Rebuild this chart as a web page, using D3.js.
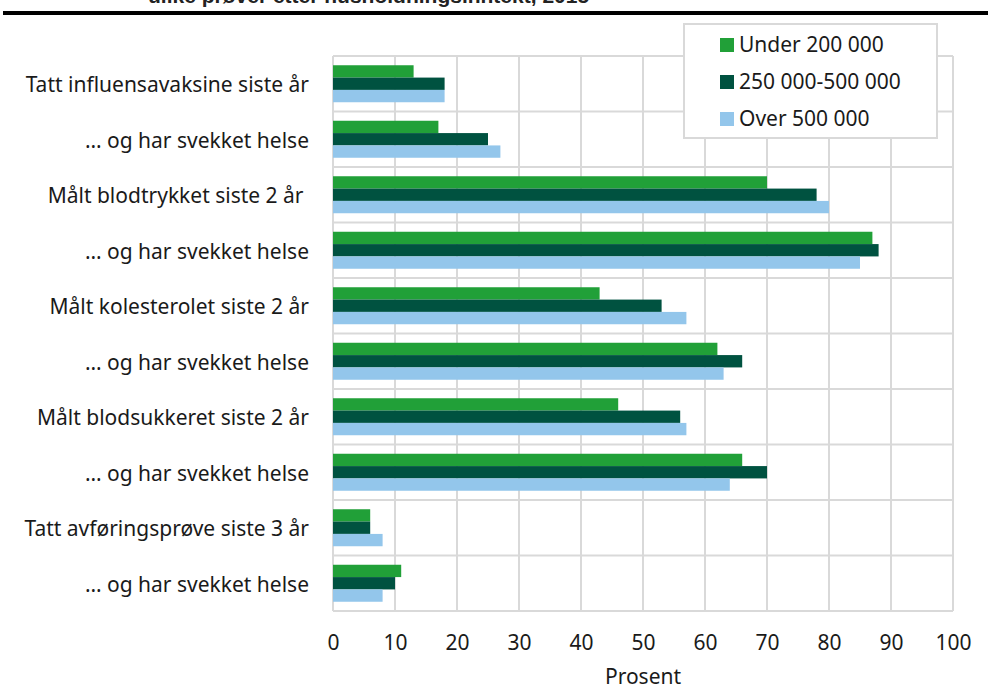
<!DOCTYPE html>
<html><head><meta charset="utf-8">
<script src="https://cdn.jsdelivr.net/npm/d3@7"></script>
<style>body{margin:0;background:#fff}svg{display:block}</style>
</head><body>
<svg id="c" width="988" height="689"></svg>
<script>
const categories = [
  "Tatt influensavaksine siste år",
  "... og har svekket helse",
  "Målt blodtrykket siste 2 år ",
  "... og har svekket helse",
  "Målt kolesterolet siste 2 år",
  "... og har svekket helse",
  "Målt blodsukkeret siste 2 år",
  "... og har svekket helse",
  "Tatt avføringsprøve siste 3 år",
  "... og har svekket helse"
];
const seriesNames = ["Under 200 000", "250 000-500 000", "Over 500 000"];
const under200 = [13, 17, 70, 87, 43, 62, 46, 66, 6, 11];
const mid250_500 = [18, 25, 78, 88, 53, 66, 56, 70, 6, 10];
const over500 = [18, 27, 80, 85, 57, 63, 57, 64, 8, 8];
const xTicks = [0,10,20,30,40,50,60,70,80,90,100];
const colors = ["#21a038", "#005240", "#93c6eb"];
const titleText = "ulike prøver etter husholdningsinntekt, 2015";

const series = [under200, mid250_500, over500];
const svg = d3.select("#c");
const font = "'Noto Sans', 'Open Sans', sans-serif";
const fs = 21;
const pL = 333, pR = 953, pT = 56, pB = 611;

// cut-off title and rule
svg.append("text").attr("x", 148).attr("y", 3)
  .attr("font-family", "'Liberation Sans', Arial, sans-serif").attr("font-weight", "bold")
  .attr("font-size", 21).attr("fill", "#222").text(titleText);
svg.append("rect").attr("x", 3).attr("y", 11).attr("width", 985).attr("height", 4).attr("fill", "#000");

const x = d3.scaleLinear().domain([0, 100]).range([pL, pR]);
const y = d3.scaleBand().domain(d3.range(categories.length)).range([pT, pB]).paddingInner(0).paddingOuter(0);
const inner = d3.scaleBand().domain(d3.range(3)).range([0, y.bandwidth()]).paddingOuter(0.75).paddingInner(0);

const grid = svg.append("g").attr("stroke", "#d9d9d9").attr("stroke-width", 2);
xTicks.forEach(t => grid.append("line").attr("x1", x(t)).attr("x2", x(t)).attr("y1", pT).attr("y2", pB));
d3.range(categories.length + 1).forEach(i => {
  const yy = i < categories.length ? y(i) : pB;
  grid.append("line").attr("x1", pL).attr("x2", pR).attr("y1", yy).attr("y2", yy);
});

series.forEach((vals, s) => {
  svg.append("g").selectAll("rect").data(vals).join("rect")
    .attr("x", x(0)).attr("y", (d, i) => y(i) + inner(s))
    .attr("width", d => x(d) - x(0)).attr("height", inner.bandwidth())
    .attr("fill", colors[s]);
});

// y labels
svg.append("g").selectAll("text").data(categories).join("text")
  .attr("x", 309).attr("y", (d, i) => y(i) + y.bandwidth() / 2 + 1)
  .attr("dy", "0.35em").attr("text-anchor", "end").style("white-space", "pre")
  .attr("font-family", font).attr("font-size", fs).attr("fill", "#1a1a1a")
  .text(d => d.replace("...", "…"));

// x axis
const xAxis = d3.axisBottom(x).tickValues(xTicks).tickSize(0).tickPadding(0).tickFormat(d3.format("d"));
const ax = svg.append("g").attr("transform", `translate(0,${643})`).call(xAxis);
ax.select(".domain").remove();
ax.selectAll("text").attr("font-family", font).attr("font-size", fs).attr("fill", "#1a1a1a").attr("dy", "0.35em");

svg.append("text").attr("x", x(50)).attr("y", 684).attr("text-anchor", "middle")
  .attr("font-family", font).attr("font-size", fs).attr("fill", "#1a1a1a").text("Prosent");

// legend
const lg = svg.append("g");
lg.append("rect").attr("x", 684).attr("y", 24).attr("width", 253).attr("height", 114)
  .attr("fill", "#fff").attr("stroke", "#d9d9d9").attr("stroke-width", 2);
seriesNames.forEach((n, i) => {
  const cy = 45 + i * 37;
  lg.append("rect").attr("x", 720).attr("y", cy - 7).attr("width", 14).attr("height", 14).attr("fill", colors[i]);
  lg.append("text").attr("x", 739).attr("y", cy).attr("dy", "0.35em")
    .attr("font-family", font).attr("font-size", fs).attr("fill", "#1a1a1a").text(n);
});
</script>
</body></html>
